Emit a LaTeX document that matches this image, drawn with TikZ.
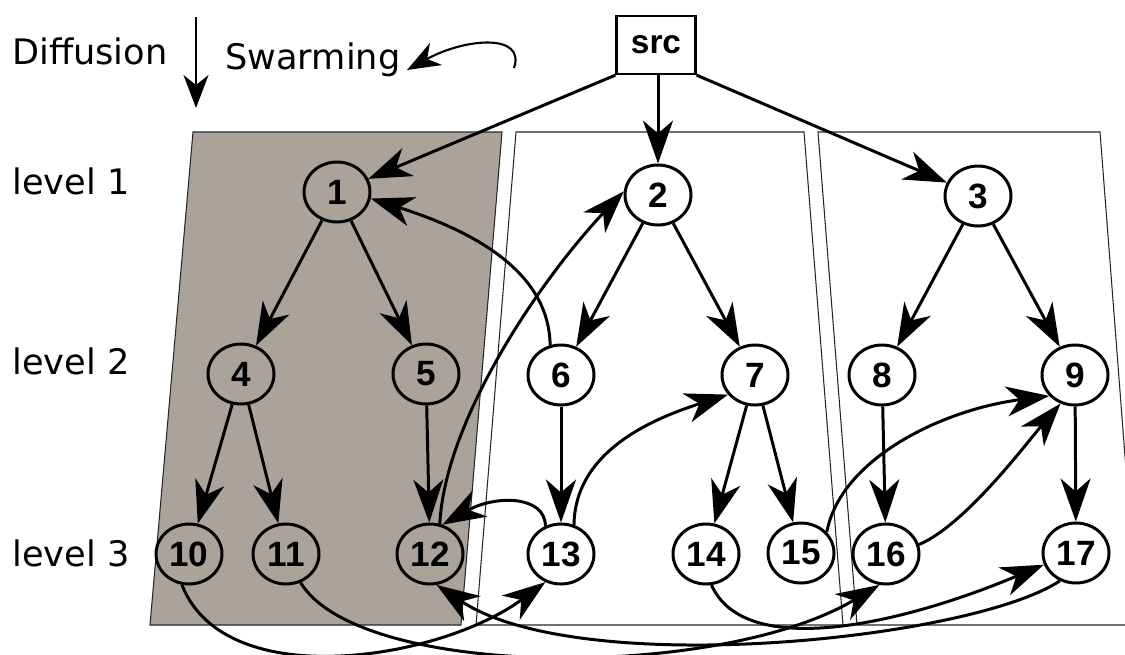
\documentclass[tikz,border=0pt]{standalone}
\usepackage{fontspec}
\setmainfont{DejaVu Sans}
\newfontfamily\nodefont{Liberation Sans}
\usetikzlibrary{arrows.meta,shapes.geometric}
\definecolor{panelgray}{RGB}{171,163,154}
\begin{document}
\begin{tikzpicture}[x=0.02cm,y=-0.02cm,
  vtx/.style={ellipse,draw,line width=1.7pt,minimum width=1.32cm,minimum height=1.2cm,inner sep=0pt,font=\nodefont\bfseries\fontsize{20}{22}\selectfont},
  wvtx/.style={vtx,fill=white},
  srcbox/.style={rectangle,draw,line width=1.3pt,fill=white,minimum width=1.58cm,minimum height=1.16cm,inner sep=0pt,font=\nodefont\bfseries\fontsize{19}{21}\selectfont},
  panel/.style={draw=black!85,line width=0.6pt},
  lbl/.style={anchor=base west,inner sep=0pt,font=\fontsize{20}{22}\selectfont},
  arr/.style={line width=1.7pt,-{Stealth[length=0.86cm,width=0.6cm,inset=0.26cm]}},
  sarr/.style={line width=1.2pt,-{Stealth[length=0.66cm,width=0.5cm,inset=0.2cm]}},
]
\useasboundingbox (0,0) rectangle (1125,654);
\clip (0,0) rectangle (1125,654);
% panels
\path[panel,fill=panelgray] (193,132) -- (502,132) -- (461,625) -- (150,625) -- cycle;
\path[panel,fill=white] (516,132) -- (804,132) -- (843,625) -- (476,625) -- cycle;
\path[panel,fill=white] (818,132) -- (1100,132) -- (1138,625) -- (857,625) -- cycle;
% labels
\node[lbl] (dif) at (12,64) {Diffusion};
\node[lbl] (swa) at (225,69) {Swarming};
\node[lbl] (l1) at (12,194) {level 1};
\node[lbl] (l2) at (12,374) {level 2};
\node[lbl] (l3) at (12,566) {level 3};
\coordinate (da) at (196,17);
\coordinate (db) at (196,108);
\draw[sarr] (da) -- (db);
\coordinate (sa) at (514,68);
\coordinate (sb) at (407,70);
\draw[sarr] (sa) .. controls (526,33) and (465,38) .. (sb);
% nodes
\node[srcbox] (src) at (656,45) {src};
\node[vtx] (n1) at (337,192) {1};
\node[wvtx] (n2) at (658,195) {2};
\node[wvtx] (n3) at (978,196) {3};
\node[vtx] (n4) at (241,374) {4};
\node[vtx] (n5) at (426,374) {5};
\node[wvtx] (n6) at (561,375) {6};
\node[wvtx] (n7) at (755,375) {7};
\node[wvtx] (n8) at (882,375) {8};
\node[wvtx] (n9) at (1075,375) {9};
\node[vtx] (n10) at (189,554) {10};
\node[vtx] (n11) at (286,554) {11};
\node[vtx] (n12) at (430,554) {12};
\node[wvtx] (n13) at (561,554) {13};
\node[wvtx] (n14) at (706,554) {14};
\node[wvtx] (n15) at (801,553) {15};
\node[wvtx] (n16) at (886,554) {16};
\node[wvtx] (n17) at (1076,553) {17};
% tree edges
\draw[arr] (src.south west) -- (n1);
\draw[arr] (src.south -| n2.north) -- (n2.north);
\draw[arr] (src.south east) -- (n3);
\draw[arr] (n1) -- (n4);
\draw[arr] (n1) -- (n5);
\draw[arr] (n2) -- (n6);
\draw[arr] (n2) -- (n7);
\draw[arr] (n3) -- (n8);
\draw[arr] (n3) -- (n9);
\draw[arr] (n4) -- (n10);
\draw[arr] (n4) -- (n11);
\draw[arr] (n5) -- (n12);
\draw[arr] (n6) -- (n13);
\draw[arr] (n7) -- (n14);
\draw[arr] (n7) -- (n15);
\draw[arr] (n8) -- (n16);
\draw[arr] (n9) -- (n17);
% swarming edges
\draw[arr] (n6.110) .. controls (549,270) and (470,230) .. (n1.-11);
\draw[arr] (n12.72) .. controls (445,420) and (540,280) .. (n2.174);
\draw[arr] (n13.119) .. controls (545,495) and (495,495) .. (n12.67);
\draw[arr] (n13.66) .. controls (575,450) and (655,418) .. (n7.216);
\draw[arr] (n15.39) .. controls (840,460) and (940,410) .. (n9.219);
\draw[arr] (n16.16) .. controls (965,525) and (1025,445) .. (n9.243);
\draw[arr] (n10.257) .. controls (225,695) and (440,660) .. (n13.241);
\draw[arr] (n11.-63) .. controls (360,680) and (720,680) .. (n16.258);
\draw[arr] (n14.-80) .. controls (745,660) and (900,625) .. (n17.200);
\draw[arr] (n17.240) .. controls (970,640) and (580,680) .. (n12.-78);
\end{tikzpicture}
\end{document}
